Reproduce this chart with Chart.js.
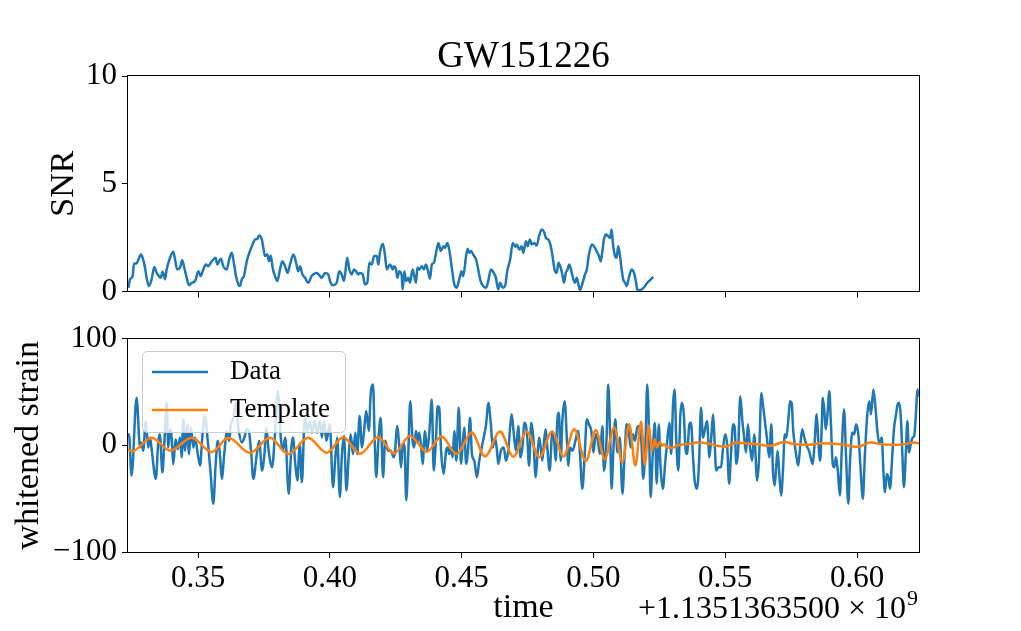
<!DOCTYPE html>
<html>
<head>
<meta charset="utf-8">
<script src="https://cdn.jsdelivr.net/npm/chart.js@4.4.0/dist/chart.umd.min.js"></script>
<style>
  body { margin: 0; background: #fff; }
  #wrap { position: relative; width: 1021px; height: 631px; }
  canvas { position: absolute; left: 0; }
  #snrChart { top: 0; }
  #strainChart { top: 315px; }
</style>
</head>
<body>
<div id="wrap">
  <canvas id="snrChart" width="1021" height="315"></canvas>
  <canvas id="strainChart" width="1021" height="316"></canvas>
</div>
<script>
// time is in ms after the GPS offset 1.1351363500e9 s
const timeRangeMs = [323.44, 623.51];
const timeTicksMs = [350, 400, 450, 500, 550, 600];
const timeTickLabels = ['0.35', '0.40', '0.45', '0.50', '0.55', '0.60'];
const snrTicks = [0, 5, 10];
const strainTicks = [-100, 0, 100];

const snrTimeMs = [323.6, 324.2, 325.2, 325.7, 326.7, 327.4, 328.3, 329.0, 329.9, 330.5, 331.4, 332.4, 333.4, 334.3, 335.2, 335.8, 336.6, 337.5, 338.1, 339.4,
  340.6, 341.3, 342.1, 343.2, 344.0, 344.8, 345.7, 346.6, 347.6, 348.9, 350.1, 351.0, 352.0, 353.0, 353.9, 354.8, 355.8, 356.7, 357.3, 358.0,
  358.7, 359.6, 360.9, 361.8, 362.8, 363.6, 364.4, 365.3, 365.9, 366.6, 367.4, 368.5, 369.7, 370.7, 371.6, 372.5, 373.2, 374.2, 374.8, 375.4,
  376.3, 376.9, 377.6, 378.3, 379.2, 380.1, 381.1, 382.0, 383.0, 384.0, 384.9, 386.2, 387.2, 388.0, 388.7, 389.6, 390.6, 391.8, 393.1, 395.0,
  396.3, 396.9, 398.2, 399.4, 400.3, 401.2, 402.6, 403.6, 404.5, 405.4, 406.6, 407.4, 408.3, 409.2, 409.9, 410.8, 411.4, 412.5, 413.3, 414.2,
  415.0, 415.9, 416.8, 417.8, 418.4, 419.0, 420.1, 420.9, 421.6, 422.8, 423.9, 424.3, 425.1, 425.6, 426.4, 427.3, 427.6, 428.3, 428.9, 429.8,
  430.4, 431.4, 431.9, 432.7, 433.2, 433.9, 434.9, 435.7, 436.5, 437.4, 438.0, 438.7, 439.5, 440.3, 441.2, 442.1, 443.1, 443.7, 444.6, 445.3,
  446.2, 447.1, 448.1, 449.1, 450.0, 450.6, 451.7, 452.3, 452.9, 453.6, 454.4, 455.5, 456.3, 457.2, 458.2, 459.3, 460.1, 461.1, 462.0, 463.0,
  463.9, 464.6, 465.6, 466.5, 467.3, 468.4, 469.4, 470.3, 470.9, 471.9, 472.8, 473.4, 474.4, 475.1, 475.9, 476.6, 477.5, 478.5, 479.4, 480.4,
  481.3, 482.0, 482.9, 483.5, 484.4, 485.4, 486.1, 486.7, 487.6, 488.3, 488.8, 489.5, 490.2, 490.8, 491.8, 492.4, 493.0, 493.7, 494.3, 494.9,
  495.9, 496.8, 497.5, 498.3, 499.4, 500.2, 501.2, 502.1, 502.8, 503.4, 504.0, 504.8, 505.6, 506.3, 506.9, 507.5, 508.2, 508.8, 509.4, 510.1,
  510.7, 511.3, 512.0, 512.6, 513.6, 514.5, 515.4, 516.2, 516.6, 517.4, 518.3, 519.6, 520.4, 521.5, 522.7];
const snrValues = [0.17, 0.56, 0.71, 1.30, 1.30, 1.48, 1.71, 1.56, 1.10, 0.63, 0.25, 0.56, 1.13, 0.86, 0.71, 0.63, 0.91, 0.56, 1.02, 1.56,
  1.84, 1.48, 1.02, 1.10, 1.45, 1.10, 0.63, 0.29, 0.40, 0.48, 0.94, 0.71, 1.02, 1.25, 1.17, 1.33, 1.48, 1.56, 1.25, 1.40,
  1.51, 1.17, 1.02, 1.48, 1.79, 1.33, 0.71, 0.32, 0.25, 0.56, 0.71, 1.40, 1.87, 2.18, 2.41, 2.44, 2.59, 2.41, 2.02, 1.64,
  1.71, 1.40, 1.67, 1.10, 0.71, 0.48, 1.02, 1.40, 1.17, 0.86, 1.25, 1.71, 1.33, 0.94, 1.17, 0.79, 0.63, 0.40, 0.71, 0.86,
  0.71, 0.63, 0.86, 0.79, 0.40, 0.29, 0.40, 0.94, 0.79, 0.48, 1.56, 1.02, 0.79, 1.02, 0.94, 0.79, 0.86, 0.79, 0.32, 0.40,
  1.33, 1.25, 1.64, 1.64, 1.25, 1.79, 2.21, 1.71, 1.02, 1.25, 1.02, 1.17, 1.02, 0.63, 0.94, 0.71, 0.09, 0.94, 0.48, 0.63,
  0.40, 1.02, 0.79, 0.40, 1.10, 1.02, 1.17, 1.02, 1.25, 0.86, 0.59, 1.25, 1.33, 1.79, 2.25, 1.87, 2.10, 2.02, 2.25, 1.94,
  1.17, 0.40, 0.17, 0.56, 0.94, 0.71, 1.64, 1.98, 1.79, 1.87, 1.71, 1.48, 1.02, 0.48, 0.25, 0.17, 0.48, 1.02, 0.90, 0.63,
  0.09, 0.40, 0.17, 0.25, 0.94, 1.48, 2.25, 2.07, 2.18, 1.94, 2.10, 1.79, 2.33, 2.10, 2.41, 2.18, 2.25, 2.13, 2.59, 2.87,
  2.75, 2.48, 2.41, 2.25, 1.71, 0.94, 0.86, 1.33, 1.10, 0.71, 0.40, 0.86, 1.02, 1.25, 0.86, 0.56, 0.40, 0.63, 0.32, 0.06,
  0.40, 0.79, 1.02, 1.71, 2.18, 2.10, 1.87, 1.64, 1.40, 1.87, 2.41, 2.64, 2.56, 2.48, 2.87, 2.10, 1.64, 1.56, 2.10, 1.64,
  1.02, 0.56, 0.40, 0.25, 0.71, 1.02, 0.86, 0.40, 0.09, 0.06, 0.09, 0.25, 0.40, 0.52, 0.68];

const strainTimeMs = [323.4, 323.8, 324.8, 326.7, 328.0, 328.6, 329.2, 330.2, 331.1, 331.8, 332.4, 334.0, 334.9, 335.5, 336.5, 337.2, 338.1, 338.7, 339.4, 340.0,
  340.6, 341.5, 342.3, 343.2, 343.8, 344.4, 345.1, 345.9, 346.6, 347.3, 348.2, 348.9, 349.9, 350.8, 351.6, 352.6, 353.7, 354.7, 355.8, 356.7,
  357.5, 358.3, 359.0, 360.0, 360.9, 361.8, 362.5, 363.4, 364.3, 365.3, 366.6, 367.6, 368.5, 369.3, 370.1, 371.0, 372.3, 373.2, 374.3, 375.3,
  375.9, 376.8, 378.1, 379.1, 380.3, 381.4, 382.2, 383.1, 384.4, 385.4, 386.0, 386.9, 387.7, 388.6, 389.4, 390.5, 391.5, 392.4, 393.2, 394.3,
  395.2, 396.2, 397.0, 397.8, 398.7, 400.0, 401.2, 402.1, 402.8, 403.8, 404.6, 405.4, 406.3, 407.2, 407.9, 408.8, 409.7, 410.4, 411.3, 412.2,
  413.0, 413.8, 414.8, 415.5, 416.4, 417.0, 417.6, 418.5, 419.3, 420.2, 421.0, 422.1, 423.2, 424.2, 424.7, 425.5, 426.4, 427.0, 427.6, 428.3,
  429.0, 429.8, 430.5, 431.4, 432.0, 432.7, 433.3, 433.9, 434.6, 435.2, 436.1, 436.9, 437.7, 438.7, 439.4, 440.3, 440.9, 441.5, 442.2, 443.2,
  444.1, 444.7, 445.3, 446.0, 446.6, 447.2, 448.0, 448.9, 449.8, 450.4, 451.0, 451.7, 452.5, 453.2, 453.9, 454.8, 455.8, 456.7, 457.6, 458.4,
  459.3, 460.1, 461.1, 461.8, 462.7, 463.4, 463.9, 464.9, 466.0, 466.8, 467.7, 468.5, 469.0, 469.8, 470.6, 471.5, 472.3, 473.2, 473.7, 474.3,
  474.9, 475.6, 476.4, 477.2, 478.1, 478.7, 479.4, 480.0, 480.6, 481.3, 481.9, 482.5, 483.4, 484.4, 485.1, 485.7, 486.3, 486.9, 487.6, 488.2,
  489.1, 489.9, 490.5, 491.1, 492.0, 492.6, 493.3, 494.2, 494.9, 495.8, 496.7, 497.5, 498.3, 499.2, 500.0, 500.9, 501.5, 502.5, 503.4, 504.0,
  505.0, 505.6, 506.3, 506.9, 507.5, 508.3, 509.1, 510.0, 511.0, 511.9, 512.6, 513.5, 514.1, 515.0, 515.8, 516.6, 517.3, 518.2, 518.9, 519.8,
  520.4, 521.1, 521.7, 522.5, 523.3, 524.0, 524.8, 525.4, 526.3, 527.3, 527.9, 528.8, 529.5, 530.2, 530.8, 531.4, 532.2, 533.0, 533.6, 534.3,
  534.9, 535.5, 536.4, 537.0, 537.8, 538.4, 539.3, 540.1, 540.8, 541.6, 542.2, 543.1, 544.0, 544.7, 545.4, 545.9, 546.6, 547.5, 548.4, 549.2,
  550.0, 550.7, 551.5, 552.2, 553.0, 553.6, 554.2, 554.9, 555.7, 556.5, 557.2, 557.9, 558.6, 559.3, 560.2, 561.0, 562.1, 562.8, 563.7, 564.3,
  565.2, 565.8, 566.7, 567.5, 568.1, 568.8, 569.4, 569.9, 570.5, 571.2, 571.9, 572.6, 573.2, 574.1, 574.6, 575.2, 575.8, 576.7, 577.7, 578.4,
  579.2, 580.0, 580.9, 581.8, 582.4, 583.2, 583.8, 584.7, 585.3, 586.0, 586.6, 587.0, 587.6, 588.1, 588.7, 589.5, 590.0, 590.8, 591.4, 592.0,
  592.7, 593.5, 594.2, 595.1, 595.8, 596.7, 597.3, 598.2, 599.0, 599.6, 600.5, 601.4, 602.2, 603.0, 603.9, 604.7, 605.3, 606.2, 606.9, 607.7,
  608.5, 609.4, 610.0, 610.6, 611.3, 611.9, 612.5, 613.4, 614.0, 614.8, 615.4, 616.0, 616.7, 617.2, 617.8, 618.5, 619.1, 619.7, 620.4, 621.1,
  621.7, 622.4, 622.9, 623.4, 624.0];
const strainValues = [8, 10.4, -28.4, 44.5, -2, 2.6, -5.1, 22.8, -2, 7.3, -3.6, -31.5, 2.6, 10.4, -25.3, 1, 39.8, -2, 15, 7.3,
  -17.8, 5.7, -3.6, 7.3, -11.3, 24.3, -5.1, 19.7, -8.2, 16.6, -2, 7.3, -8.2, -19, 7.3, 27.4, 4.2, -23.7, -54.7, -17.5,
  4.2, -8.2, -31.5, -6.7, 13.5, 4.2, 19.7, 25.9, 39.8, 16.6, 2.6, 7.3, 15, 13.5, -5.1, -31.5, -8.2, 4, -23.7, -5.1,
  16.6, -5.1, -20.6, 7.3, 50.7, 7.3, -5.1, 7.3, -45.4, -2, 7.3, -17.5, -33, 1.1, -34.6, 25.9, 13.5, 22.8, 11.9, 22.8,
  11.9, 22.8, 7.3, 22.8, 4.2, 19.7, -39.2, -11.3, 7.3, -48.5, -8.2, 8.8, -42.3, -8.2, 10.4, -8.2, 11.9, -8.2, 27.4, -2,
  13.5, 32.1, 13.5, 47.6, 56.9, 7.3, -29.9, 7.3, 25.9, -29.9, 4.2, -5.1, -5.1, -11.3, -6.7, 18.1, -2, -20.6, -2, 1.1,
  -51.6, -5.1, 41.4, 4.2, -2, 13.5, 2.6, 11.9, 1.1, -17.5, 13.5, -5.1, 10.4, 42.9, -23.7, 7.3, 36.7, 35.2, -5.1, -26.8,
  -5.1, -2, -8.2, -2, -11.3, 13.5, -14.4, 35.2, -17.5, 1.1, 16.6, -17.5, -2, 25.9, -8.2, -14.4, -29.9, -14.4, -2, 7.3,
  19.7, 39.8, 19.7, -2, 7.3, -5.1, -17.5, -5.1, -2, -14.4, -5.1, 19.7, 29, 10.4, -5.1, 18.1, -11.3, 1.1, 21.2, 19.7,
  7.3, -19.1, 21.2, 7.3, -29.9, -11.3, 7.3, -2, -14.4, 4.2, 15, -2, -23.7, 11.9, 4.2, -14.4, 22.8, 30.5, -14.4, 22.8,
  41.4, 7.3, -19.1, -2, -5.1, -2, 5.7, 13.5, -8.2, -40.8, -8.2, 24.3, 19.7, 13.5, -6.7, 10.4, 7.3, -8.2, 18.1, -23.7,
  7.3, 56.9, 13.5, -40.8, -8.2, 24.3, -6.7, 7.3, -45.4, -5.1, 19.7, 11.9, -2, 10.4, 4.2, 16.6, 18.1, 2.6, -31.5, 7.3,
  56.9, 13.5, -48.5, -8.2, 21.2, -36.1, 19.7, -17.5, -40.8, -14.4, 1.1, 21.2, -8.2, 38.3, 52.2, 7.3, -23.7, 29, 39.8, 29,
  -2, -8.2, 19.7, 21.2, -11.3, -33, -40.8, -14.4, 35.2, 7.3, 13.5, 22.8, -11.3, 7.3, 29, 7.3, -23.7, -20.6, -20.6, -2,
  10.4, 1.1, -36.1, -8.2, 19.7, 16.6, -17.5, -5.1, 46, 22.8, 7.3, -6.7, 19.7, 1.1, -14.4, 10.4, -33, -14.4, 49.1, 38.3,
  19.7, 7.3, -11.3, 19.7, -23.7, -37.7, -17.5, -5.1, -26.8, -47, -23.7, 10.4, 7.3, 29, 41.4, 39.8, 13.5, -5.1, -19.1, -2,
  15, 7.3, -0.5, -5.1, -11.3, -17.5, -2, 29, 4.2, -14.4, 16.6, 44.5, 32.1, 15, 25.9, 50.7, 25.9, -17.5, -20.6, -11.3,
  -23.7, -47, -5.1, 33.6, -8.2, -54.7, -17.5, 11.9, 10.4, 19.7, 10.4, -23.7, -50.2, -8.2, 29, 41.4, 29, 52.2, 38.3, 13.5,
  1.1, 7.3, -23.7, -43.9, -26.8, -29.9, -40.8, -8.2, 15, 29, 38.3, 39.8, 22.8, -8.2, -39.2, -8.2, 22.8, -6.7, 1.1, 7.3,
  8.8, 32.1, 52.2, 47.6, 45];

const templateTimeMs = [323.4, 325.0, 332.4, 339.4, 347.6, 355.2, 361.5, 369.7, 377.3, 384.3, 391.8, 398.8, 405.1, 411.4, 418.4, 424.4, 430.4, 436.8, 442.4, 448.1,
  453.8, 458.9, 464.6, 469.6, 474.7, 479.5, 484.3, 488.7, 492.7, 497.1, 500.9, 504.3, 507.9, 511.0, 513.6, 515.9, 518.1, 519.5, 521.0, 522.2,
  523.3, 524.0, 525.3, 526.0, 526.8, 527.9, 529.8, 531.7, 535.5, 539.3, 543.8, 546.9, 549.9, 554.5, 558.3, 562.1, 567.0, 572.3, 576.5, 582.2,
  586.0, 593.5, 600.4, 604.9, 611.4, 616.3, 622.0, 623.5];
const templateValues = [-4, -5.5, 7, -5, 7, -6.3, 7, -7, 7, -8.2, 7, -7, 7.5, -8, 7.5, -7.6, 8.8, -6, 8.2, -8.2,
  11.9, -10.4, 12.9, -10.7, 12.9, -11.3, 12.9, -10.5, 15, -14.8, 14, -12.9, 16.6, -16, 19.7, -19, 22, -18.5, 18.5, -5,
  5.7, -2, 3, -0.5, 1, -1.4, -2.6, 0, 1, 2.6, 1.7, -0.5, -1.4, 2.6, 1.7, 1, -0.5, 3, 1, 0.5,
  2, 1, -1.4, 2.6, 0.5, 0.5, 2.6, 1.7];

const FONT = "'Liberation Serif', 'DejaVu Serif', serif";
Chart.defaults.font.family = FONT;
Chart.defaults.color = '#000';

const toPoints = (xs, ys) => xs.map((x, i) => ({x: x, y: ys[i]}));
const minusLabel = v => (v < 0 ? '\u2212' + Math.abs(v) : String(v));

// full box around the axes, like matplotlib spines
const frame = {
  id: 'frame',
  afterDatasetsDraw(chart) {
    const {ctx, chartArea: a} = chart;
    ctx.save();
    ctx.strokeStyle = '#000';
    ctx.lineWidth = 1;
    ctx.strokeRect(Math.round(a.left) - 0.5, Math.round(a.top) - 0.5,
      Math.round(a.right - a.left) + 1, Math.round(a.bottom - a.top) + 1);
    ctx.restore();
  }
};

const axesTitle = {
  id: 'axesTitle',
  afterDraw(chart, args, opts) {
    if (!opts.text) return;
    const {ctx, chartArea: a} = chart;
    ctx.save();
    ctx.font = opts.size + 'px ' + FONT;
    ctx.fillStyle = '#000';
    ctx.textAlign = 'center';
    ctx.textBaseline = 'alphabetic';
    ctx.fillText(opts.text, (a.left + a.right) / 2, a.top - 9);
    ctx.restore();
  }
};

const insetLegend = {
  id: 'insetLegend',
  afterDatasetsDraw(chart, args, opts) {
    if (!opts.show) return;
    const {ctx, chartArea: a} = chart;
    const x = Math.round(a.left) + 14, y = Math.round(a.top) + 12, w = 203, h = 81;
    ctx.save();
    ctx.beginPath();
    ctx.roundRect(x + 0.5, y + 0.5, w, h, 5);
    ctx.fillStyle = 'rgba(255,255,255,0.8)';
    ctx.fill();
    ctx.strokeStyle = '#cccccc';
    ctx.lineWidth = 1;
    ctx.stroke();
    ctx.font = '27px ' + FONT;
    ctx.textBaseline = 'middle';
    chart.data.datasets.forEach((ds, i) => {
      const ly = y + 21 + i * 38;
      ctx.strokeStyle = ds.borderColor;
      ctx.lineWidth = ds.borderWidth;
      ctx.beginPath();
      ctx.moveTo(x + 10, ly);
      ctx.lineTo(x + 66, ly);
      ctx.stroke();
      ctx.fillStyle = '#000';
      ctx.fillText(ds.label, x + 88, ly);
    });
    ctx.restore();
  }
};

const offsetText = {
  id: 'offsetText',
  afterDraw(chart, args, opts) {
    if (!opts.text) return;
    const {ctx, chartArea: a} = chart;
    ctx.save();
    ctx.fillStyle = '#000';
    ctx.textBaseline = 'alphabetic';
    ctx.font = '22px ' + FONT;
    const supW = ctx.measureText(opts.sup).width;
    ctx.textAlign = 'left';
    ctx.fillText(opts.sup, a.right - supW - 1, opts.baseline - 13);
    ctx.font = '32px ' + FONT;
    ctx.textAlign = 'right';
    ctx.fillText(opts.text, a.right - supW - 2, opts.baseline);
    ctx.restore();
  }
};

const tickGrid = {drawOnChartArea: false, drawTicks: true, tickLength: 6, color: '#000', lineWidth: 1};

function timeAxis(showLabels, height) {
  return {
    type: 'linear',
    min: timeRangeMs[0],
    max: timeRangeMs[1],
    afterBuildTicks: s => { s.ticks = timeTicksMs.map(v => ({value: v})); },
    afterFit: s => { s.height = height; },
    grid: tickGrid,
    border: {display: false},
    ticks: {display: showLabels, autoSkip: false, maxRotation: 0, padding: 2,
      font: {size: 31}, callback: (v, i) => timeTickLabels[i]},
    title: {display: showLabels, text: 'time', font: {size: 34}, padding: {top: 0, bottom: 3}}
  };
}

function valueAxis(min, max, ticks, label, titlePad) {
  return {
    min: min,
    max: max,
    afterBuildTicks: s => { s.ticks = ticks.map(v => ({value: v})); },
    afterFit: s => { s.width = 128; },
    grid: tickGrid,
    border: {display: false},
    ticks: {padding: 5, font: {size: 31}, callback: v => minusLabel(v)},
    title: {display: true, text: label, font: {size: 34}, padding: {top: titlePad, bottom: 0}}
  };
}

new Chart(document.getElementById('snrChart').getContext('2d'), {
  type: 'line',
  data: {
    datasets: [{
      label: 'SNR',
      data: toPoints(snrTimeMs, snrValues),
      parsing: false,
      borderColor: '#1f77b4',
      borderWidth: 2.5,
      pointRadius: 0,
      cubicInterpolationMode: 'monotone'
    }]
  },
  options: {
    responsive: false,
    animation: false,
    devicePixelRatio: 1,
    layout: {padding: {left: 0, right: 102, top: 76, bottom: 0}},
    plugins: {
      legend: {display: false},
      tooltip: {enabled: false},
      axesTitle: {text: 'GW151226', size: 37}
    },
    scales: {
      x: timeAxis(false, 23),
      y: valueAxis(0, 10, snrTicks, 'SNR', 44)
    }
  },
  plugins: [frame, axesTitle]
});

new Chart(document.getElementById('strainChart').getContext('2d'), {
  type: 'line',
  data: {
    datasets: [{
      label: 'Data',
      data: toPoints(strainTimeMs, strainValues),
      parsing: false,
      borderColor: '#1f77b4',
      borderWidth: 2.5,
      pointRadius: 0,
      cubicInterpolationMode: 'monotone',
      order: 2
    }, {
      label: 'Template',
      data: toPoints(templateTimeMs, templateValues),
      parsing: false,
      borderColor: '#ff7f0e',
      borderWidth: 2.5,
      pointRadius: 0,
      cubicInterpolationMode: 'monotone',
      order: 1
    }]
  },
  options: {
    responsive: false,
    animation: false,
    devicePixelRatio: 1,
    layout: {padding: {left: 0, right: 102, top: 22, bottom: 0}},
    plugins: {
      legend: {display: false},
      tooltip: {enabled: false},
      insetLegend: {show: true},
      offsetText: {text: '+1.1351363500 \u00d7 10', sup: '9', baseline: 303}
    },
    scales: {
      x: timeAxis(true, 79),
      y: valueAxis(-100, 100, strainTicks, 'whitened strain', 9)
    }
  },
  plugins: [frame, insetLegend, offsetText]
});
</script>
</body>
</html>
